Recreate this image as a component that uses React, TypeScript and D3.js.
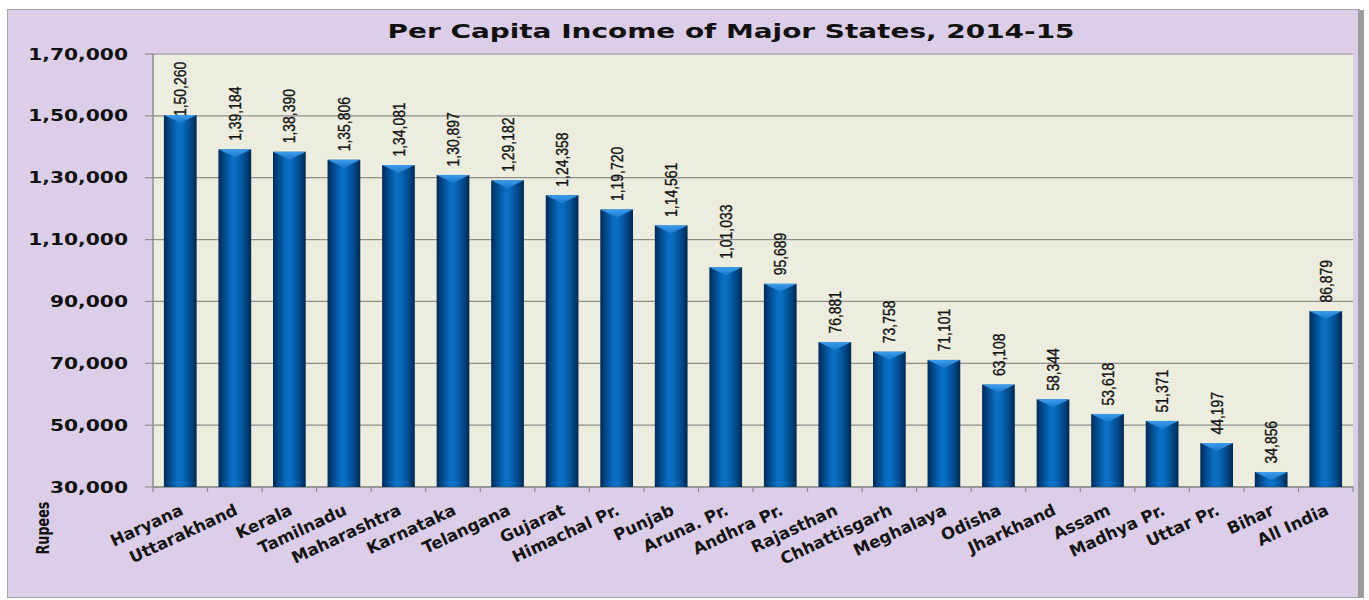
import React from "react";
import * as d3 from "d3";

const title = "Per Capita Income of Major States, 2014-15";
const states = ["Haryana","Uttarakhand","Kerala","Tamilnadu","Maharashtra","Karnataka","Telangana","Gujarat","Himachal Pr.","Punjab","Aruna. Pr.","Andhra Pr.","Rajasthan","Chhattisgarh","Meghalaya","Odisha","Jharkhand","Assam","Madhya Pr.","Uttar Pr.","Bihar","All India"];
const incomes = [150260,139184,138390,135806,134081,130897,129182,124358,119720,114561,101033,95689,76881,73758,71101,63108,58344,53618,51371,44197,34856,86879];
const yTicks = [30000,50000,70000,90000,110000,130000,150000,170000];
const yLabel = "Rupees";

function indian(n: number): string {
  const s = String(Math.round(n));
  if (s.length <= 3) return s;
  const last3 = s.slice(-3);
  let rest = s.slice(0, -3);
  const parts: string[] = [];
  while (rest.length > 2) { parts.unshift(rest.slice(-2)); rest = rest.slice(0, -2); }
  if (rest.length) parts.unshift(rest);
  return parts.join(",") + "," + last3;
}

export default function App() {
  const W = 1369, H = 600;
  const left = 153, right = 1353, top = 54, bottom = 487;
  const x = d3.scaleBand<string>().domain(states).range([left, right]).paddingInner(0.4).paddingOuter(0.2);
  const y = d3.scaleLinear().domain([30000, 170000]).range([bottom, top]);
  const bw = x.bandwidth();
  const bandEdges = d3.range(states.length + 1).map(i => left + (right - left) / states.length * i);
  const sx = 1.35;
  return (
    <svg width={W} height={H} style={{ position: "absolute", left: 0, top: 0 }}>
      <defs>
        <linearGradient id="cyl" x1="0" x2="1" y1="0" y2="0">
          <stop offset="0" stopColor="#002b55" />
          <stop offset="0.18" stopColor="#03498c" />
          <stop offset="0.42" stopColor="#0a6fc4" />
          <stop offset="0.55" stopColor="#0a6cbf" />
          <stop offset="0.8" stopColor="#044b8e" />
          <stop offset="1" stopColor="#00284e" />
        </linearGradient>
        <linearGradient id="cap" x1="0" x2="0" y1="0" y2="1">
          <stop offset="0" stopColor="#3d9cec" />
          <stop offset="1" stopColor="#1b78cc" />
        </linearGradient>
      </defs>
      <rect x={0} y={0} width={W} height={H} fill="#ffffff" />
      <rect x={7.5} y={9.5} width={1352} height={588} fill="#dccee8" stroke="#a5a5a5" strokeWidth={1} />
      <rect x={1358} y={10} width={6} height={588} fill="#9c9c9c" />
      <text x={731} y={38} textLength={687} lengthAdjust="spacingAndGlyphs" textAnchor="middle"
        fontFamily="DejaVu Sans" fontWeight="bold" fontSize={19} fill="#111">{title}</text>
      <rect x={left} y={top} width={right - left} height={bottom - top} fill="#ecedde" />
      {yTicks.map(t => (
        <g key={t}>
          <line x1={left} x2={right} y1={y(t)} y2={y(t)} stroke="#8e8e8e" strokeWidth={1.2} />
          <line x1={left - 8} x2={left} y1={y(t)} y2={y(t)} stroke="#8e8e8e" strokeWidth={1.2} />
          <text transform={`translate(128,${y(t) + 5.5}) scale(${sx},1)`} textAnchor="end"
            fontFamily="DejaVu Sans" fontWeight="bold" fontSize={15} fill="#111">{indian(t)}</text>
        </g>
      ))}
      <line x1={left} x2={left} y1={top} y2={bottom} stroke="#8e8e8e" strokeWidth={1.5} />
      <line x1={left} x2={right} y1={bottom} y2={bottom} stroke="#8e8e8e" strokeWidth={1.5} />
      {bandEdges.map((e, i) => (
        <line key={i} x1={e} x2={e} y1={bottom} y2={bottom + 5} stroke="#8e8e8e" strokeWidth={1.2} />
      ))}
      {states.map((s, i) => {
        const v = incomes[i];
        const x0 = x(s)!;
        const cx = x0 + bw / 2;
        const yt = y(v);
        const labelLen = 54;
        let ly = yt - 8.5;
        if (ly - labelLen < top + 8) ly = top + 8 + labelLen;
        return (
          <g key={s}>
            <rect x={x0} y={yt} width={bw} height={bottom - yt} fill="url(#cyl)" />
            <polygon points={`${x0},${yt} ${x0 + bw},${yt} ${cx},${yt + 8}`} fill="url(#cap)" />
            <polygon points={`${x0 + 2},${bottom - 5} ${x0 + bw - 2},${bottom - 5} ${cx},${bottom - 3}`} fill="#1f7fd2" opacity={0.45} />
            <text transform={`translate(${cx},${ly}) rotate(-90) scale(0.82,1)`} dy="0.36em" textAnchor="start"
              fontFamily="'Liberation Sans', Arial, sans-serif" fontSize={17} fill="#111"
              stroke="#111" strokeWidth={0.35}>{indian(v)}</text>
            <text transform={`translate(${cx + 4},${514}) rotate(-25)`} textAnchor="end"
              fontFamily="DejaVu Sans" fontWeight="bold" fontSize={16.5} fill="#151515">{s}</text>
          </g>
        );
      })}
      <text transform={`translate(49,528) rotate(-90) scale(0.75,1)`} textAnchor="middle"
        fontFamily="DejaVu Sans" fontWeight="bold" fontSize={17} fill="#111">{yLabel}</text>
    </svg>
  );
}
